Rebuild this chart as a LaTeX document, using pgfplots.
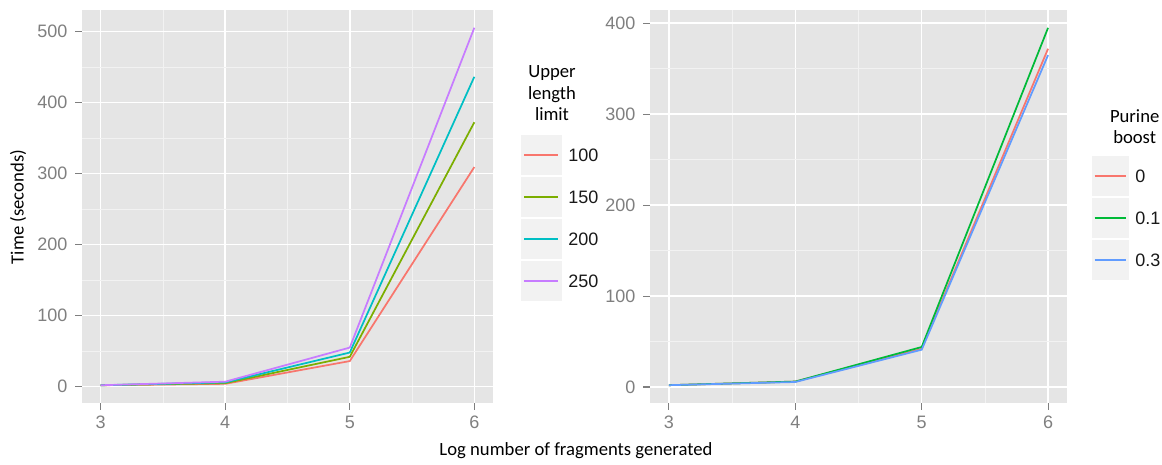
\documentclass[border=0pt]{standalone}
\usepackage{fontspec}
\setmainfont{Carlito}
\newfontfamily\arial{Liberation Sans}
\usepackage{pgfplots}
\pgfplotsset{compat=1.18}

\definecolor{panelbg}{HTML}{E5E5E5}
\definecolor{minorgrid}{HTML}{F2F2F2}
\definecolor{tickgray}{HTML}{7F7F7F}
\definecolor{keybg}{HTML}{F2F2F2}
\definecolor{ggred}{HTML}{F8766D}
\definecolor{ggolive}{HTML}{7CAE00}
\definecolor{ggcyan}{HTML}{00BFC4}
\definecolor{ggviolet}{HTML}{C77CFF}
\definecolor{gggreen}{HTML}{00BA38}
\definecolor{ggblue}{HTML}{619CFF}

% ggplot2-like panel (1px of the reference = 0.75pt)
\pgfplotsset{
  ggpanel/.style={
    scale only axis,
    anchor=south west,
    axis background/.style={fill=panelbg},
    axis line style={draw=none},
    grid=both,
    major grid style={white, line width=1.2pt},
    minor grid style={minorgrid, line width=0.5pt},
    minor x tick num=1, minor y tick num=1,
    minor tick length=0pt,
    tick align=outside,
    major tick length=5pt,
    tick pos=left,
    tick style={tickgray, line width=0.8pt},
    tick label style={font={\arial\fontsize{13.5}{15}\selectfont}, text=tickgray},
    yticklabel style={xshift=-2.5pt},
    xticklabel style={yshift=-1.5pt},
    /pgf/number format/assume math mode=true,
    xmin=2.85, xmax=6.15, xtick={3,4,5,6},
    height=294.75pt,
  },
  ggline/.style={line width=1.3pt, no marks},
}
\newcommand\keyfont{\arial\fontsize{13.5}{15}\selectfont}
\newcommand\titlefont{\fontsize{14}{16}\selectfont}

\begin{document}
\begin{tikzpicture}
\path[use as bounding box] (0,0) rectangle (871.5pt,-348pt);

% ===== left panel: upper length limit =====
\begin{axis}[ggpanel, at={(61.5pt,-302.25pt)}, width=308.25pt,
    ymin=-23, ymax=530, ytick={0,100,...,500}]
\addplot[ggline, ggred]    coordinates {(3,2) (4,4) (5,36) (6,309)};
\addplot[ggline, ggolive]  coordinates {(3,2) (4,5) (5,42) (6,372)};
\addplot[ggline, ggcyan]   coordinates {(3,2) (4,6) (5,48) (6,436)};
\addplot[ggline, ggviolet] coordinates {(3,2) (4,7) (5,55) (6,505)};
\end{axis}

% ===== right panel: purine boost =====
\begin{axis}[ggpanel, at={(487.5pt,-302.25pt)}, width=312.75pt,
    ymin=-17.6, ymax=414.6, ytick={0,100,...,400}]
\addplot[ggline, ggred]   coordinates {(3,2) (4,6) (5,42) (6,372)};
\addplot[ggline, gggreen] coordinates {(3,2) (4,6) (5,44) (6,395)};
\addplot[ggline, ggblue]  coordinates {(3,2) (4,5.5) (5,41) (6,365)};
\end{axis}

% axis titles
\node[rotate=90, font=\titlefont] at (13.5pt,-155.25pt) {Time (seconds)};
\node[font=\titlefont] at (432pt,-338.25pt) {Log number of fragments generated};

% ===== legend: upper length limit =====
\node[align=center, font=\titlefont] at (414pt,-70pt) {Upper\\length\\limit};
\foreach \c/\lab [count=\i from 0] in {ggred/100, ggolive/150, ggcyan/200, ggviolet/250} {
  \fill[keybg] (390.75pt,-101.25pt-\i*31.5pt) rectangle ++(30.75pt,-30pt);
  \draw[\c, line width=1.3pt] (393pt,-116.25pt-\i*31.5pt) -- (418.5pt,-116.25pt-\i*31.5pt);
  \node[anchor=west, inner sep=0pt, font=\keyfont, text=black!90]
    at (426pt,-116.25pt-\i*31.5pt) {\lab};
}

% ===== legend: purine boost =====
\node[align=center, font=\titlefont] at (851pt,-95pt) {Purine\\boost};
\foreach \c/\lab [count=\i from 0] in {ggred/0, gggreen/0.1, ggblue/0.3} {
  \fill[keybg] (819pt,-117pt-\i*31.5pt) rectangle ++(27.75pt,-30pt);
  \draw[\c, line width=1.3pt] (821pt,-132pt-\i*31.5pt) -- (844.5pt,-132pt-\i*31.5pt);
  \node[anchor=west, inner sep=0pt, font=\keyfont, text=black!90]
    at (851.25pt,-132pt-\i*31.5pt) {\lab};
}
\end{tikzpicture}
\end{document}
